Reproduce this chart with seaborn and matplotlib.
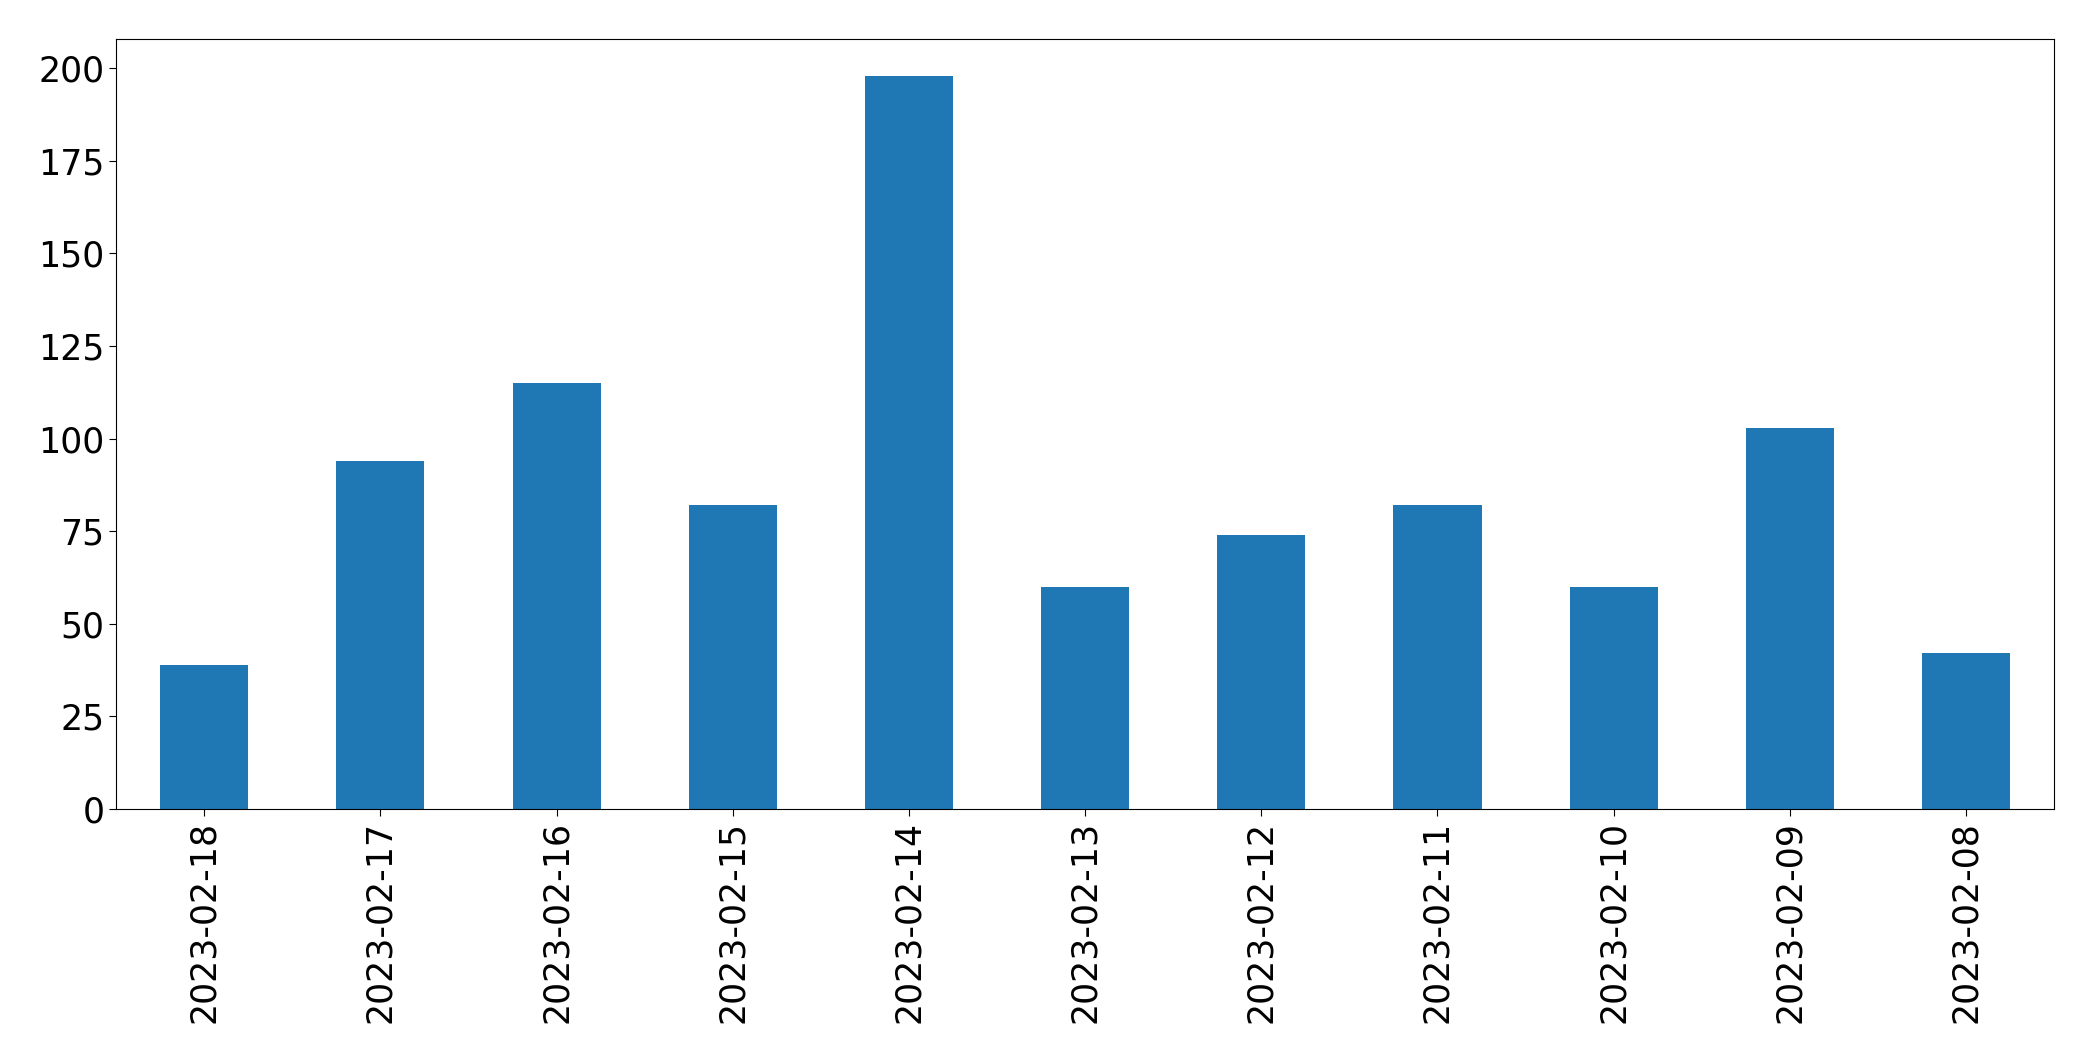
import matplotlib
matplotlib.use("Agg")
import matplotlib.pyplot as plt
import seaborn as sns
import pandas as pd

# daily counts, newest first as in the source chart
dates = ["2023-02-18", "2023-02-17", "2023-02-16", "2023-02-15", "2023-02-14",
         "2023-02-13", "2023-02-12", "2023-02-11", "2023-02-10", "2023-02-09",
         "2023-02-08"]
counts = [39, 94, 115, 82, 198, 60, 74, 82, 60, 103, 42]

df = pd.DataFrame({"date": dates, "count": counts})

fig, ax = plt.subplots(figsize=(20.93, 10.61), dpi=100)
fig.subplots_adjust(left=0.0555, right=0.9814, top=0.9632, bottom=0.2375)

sns.barplot(data=df, x="date", y="count", order=dates, color="#1f77b4",
            saturation=1, width=0.5, ax=ax)

ax.set_xlim(-0.5, len(dates) - 0.5)
ax.set_ylim(0, max(counts) * 1.05)
ax.set_xlabel("")
ax.set_ylabel("")
ax.tick_params(axis="both", labelsize=25, length=5)
ax.tick_params(axis="x", labelrotation=90)

fig.savefig("out.png", dpi=100)
